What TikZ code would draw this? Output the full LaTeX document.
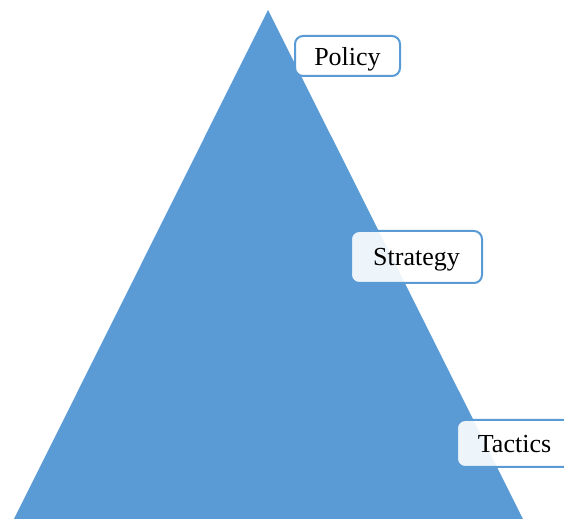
\documentclass[tikz,border=0pt]{standalone}
\usepackage{fontspec}
\setmainfont{Liberation Serif}
\definecolor{ebene}{HTML}{5B9BD5}

\begin{document}
\begin{tikzpicture} [ x=0.5pt, y=-0.5pt
								, pyramide/.style={fill=ebene, draw=none}
								, stufe/.style={rectangle, rounded corners=4pt, draw=ebene, line width=1pt, fill=white, fill opacity=.9, text opacity=1, text depth=0pt, font=\fontsize{13}{15}\selectfont}
								]
	\useasboundingbox (0,0) rectangle (564,519);

	\coordinate (Spitze) 		at (268,10);
	\coordinate (LinksUnten) 	at (14,519);
	\coordinate (RechtsUnten) 	at (523,519);
	\fill [pyramide] (Spitze) -- (RechtsUnten) -- (LinksUnten) -- cycle;

	\node (Policy) 		[stufe, minimum width=52.5pt, minimum height=20pt] at (347.5,56) {Policy};
	\node (Strategy) 	[stufe, minimum width=65.5pt, minimum height=26pt] at (416.5,257) {Strategy};
	\node (Tactics) 	[stufe, minimum width=57.5pt, minimum height=23.5pt] at (514.5,443.5) {Tactics};

\end{tikzpicture}
\end{document}
